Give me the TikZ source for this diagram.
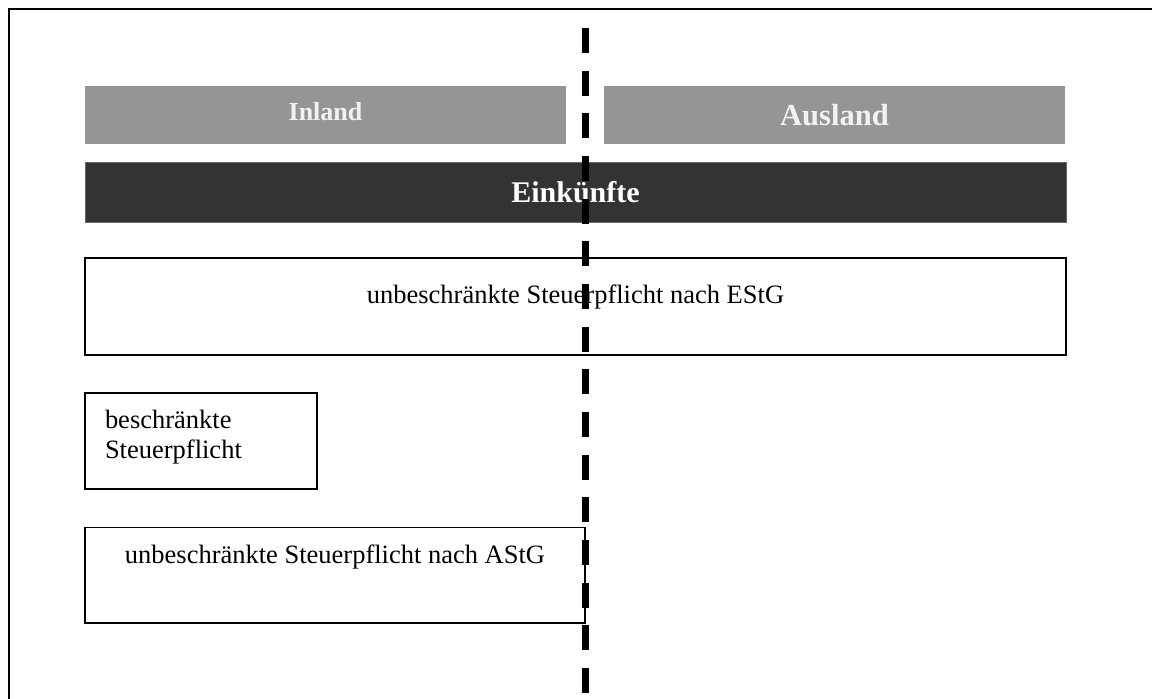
\documentclass[tikz,border=0pt]{standalone}
\usepackage{fontspec}
\setmainfont{Liberation Serif}
\usetikzlibrary{fit}
\definecolor{bargray}{HTML}{959595}
\definecolor{bardark}{HTML}{333333}
\definecolor{offwhite}{HTML}{F2F2F2}
\tikzset{
  framebox/.style={draw=black, line width=1pt, fill=white, inner sep=0pt, outer sep=0pt},
  graybar/.style={fill=bargray, draw=none, inner sep=0pt, outer sep=0pt},
  darkbar/.style={fill=bardark, draw=black!60, line width=0.4pt, inner sep=0pt, outer sep=0pt},
  txt/.style={inner sep=0pt, outer sep=0pt, font=\fontsize{15.08pt}{16.8pt}\selectfont},
  bartxt/.style={inner sep=0pt, outer sep=0pt, text=offwhite},
  divider/.style={line width=3.7pt, dash pattern=on 14.23pt off 10.05pt},
  outline/.style={line width=1.14pt, line cap=rect}
}
\begin{document}
\begin{tikzpicture}[x=0.02cm, y=-0.02cm]
\useasboundingbox (0,0) rectangle (1152,698);
% outer frame (top and left)
\coordinate (fr) at (1152,9);
\coordinate (fc) at (9,9);
\coordinate (fb) at (9,698);
\draw[outline] (fr) -- (fc) -- (fb);
% header bars
\node[graybar, fit={(85,86) (566,143.5)}] (inland) {};
\node[graybar, fit={(604,86) (1065,143.5)}] (ausland) {};
\node[bartxt, anchor=base, font=\bfseries\fontsize{14.8pt}{16pt}\selectfont] (inlandT) at (325.5,120.7) {Inland};
\node[bartxt, anchor=base, font=\bfseries\fontsize{17.4pt}{19pt}\selectfont] (auslandT) at (834.5,125.5) {Ausland};
\node[darkbar, fit={(85,162) (1066,222)}] (eink) {};
\node[bartxt, text=white, anchor=base, font=\bfseries\fontsize{17.07pt}{19pt}\selectfont] (einkT) at (575.5,202.7) {Einkünfte};
% boxes
\node[framebox, fit={(85,258) (1066,355)}] (estg) {};
\node[txt, anchor=base] (estgT) at (575.5,303) {unbeschränkte Steuerpflicht nach EStG};
\node[framebox, fit={(85,392.7) (317,489)}] (beschr) {};
\node[txt, anchor=base west, align=left] (beschrT) at (105,458.5) {beschränkte\\Steuerpflicht};
\node[framebox, fit={(85,527.5) (585,623)}] (astg) {};
\node[txt, anchor=base] (astgT) at (335,563) {unbeschränkte Steuerpflicht nach AStG};
% dashed divider
\coordinate (dtop) at (585.5,28);
\coordinate (dbot) at (585.5,698);
\draw[divider] (dtop) -- (dbot);
\end{tikzpicture}
\end{document}
